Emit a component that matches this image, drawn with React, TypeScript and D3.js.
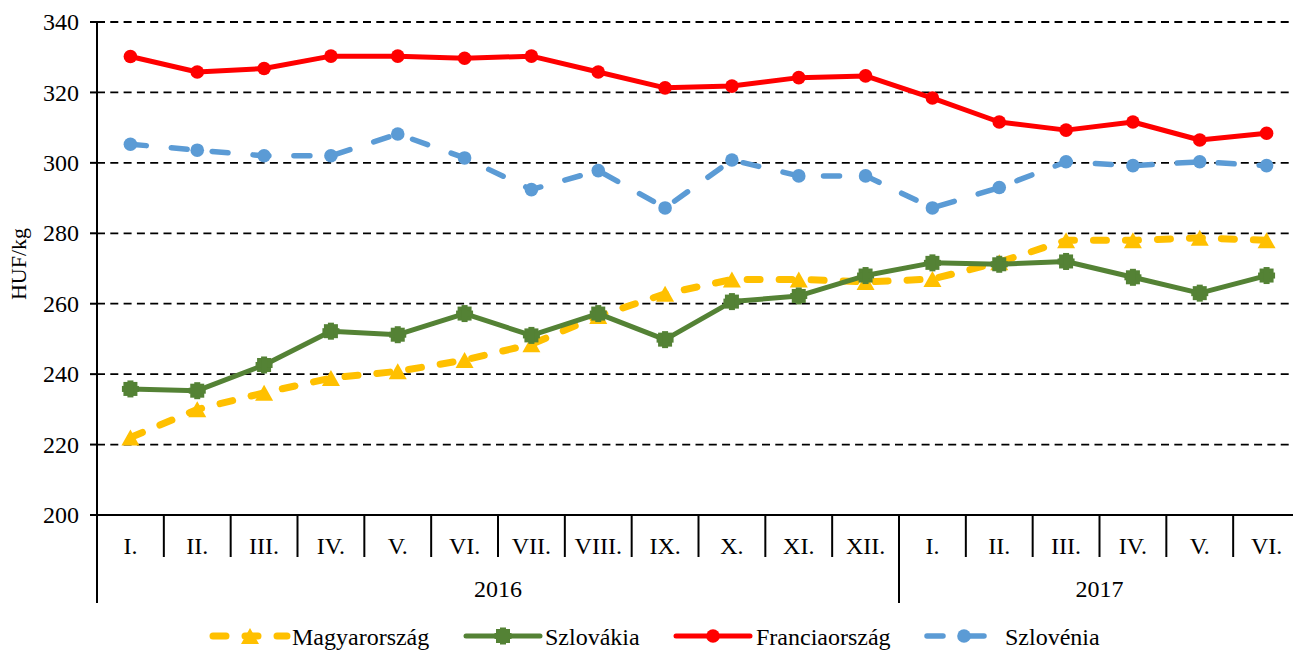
import React from "react";
import * as d3 from "d3";

const months = ["I.", "II.", "III.", "IV.", "V.", "VI.", "VII.", "VIII.", "IX.", "X.", "XI.", "XII.", "I.", "II.", "III.", "IV.", "V.", "VI."];
const yearLabels = ["2016", "2017"];
const yearCounts = [12, 6];
const yTicks = [200, 220, 240, 260, 280, 300, 320, 340];

const magyarorszag = [222, 230, 234.7, 238.9, 240.8, 244, 248.5, 256.5, 262.8, 266.9, 266.9, 266.2, 267, 271.8, 278, 278, 278.7, 278];
const szlovakia = [235.8, 235.3, 242.6, 252.2, 251.2, 257.2, 251.0, 257.2, 249.8, 260.6, 262.2, 268, 271.6, 271.2, 272, 267.5, 263, 268];
const franciaorszag = [330.2, 325.8, 326.8, 330.3, 330.3, 329.7, 330.3, 325.8, 321.3, 321.8, 324.2, 324.7, 318.4, 311.6, 309.3, 311.6, 306.5, 308.4];
const szlovenia = [305.3, 303.6, 302, 302, 308.2, 301.4, 292.4, 297.8, 287.2, 300.8, 296.3, 296.3, 287.2, 293, 300.3, 299.2, 300.3, 299.2];

type Marker = "triangle" | "square" | "circle";
const series: { name: string; values: number[]; color: string; width: number; dash?: string; marker: Marker }[] = [
  { name: "Magyarország", values: magyarorszag, color: "#FFC000", width: 7, dash: "13,19", marker: "triangle" },
  { name: "Szlovákia", values: szlovakia, color: "#548235", width: 5, marker: "square" },
  { name: "Franciaország", values: franciaorszag, color: "#FF0000", width: 5, marker: "circle" },
  { name: "Szlovénia", values: szlovenia, color: "#5B9BD5", width: 5.5, dash: "16,25", marker: "circle" },
];

const W = 1293;
const H = 651;
const FONT = "'Liberation Serif', 'Times New Roman', serif";

function MarkerShape({ type, x, y, color }: { type: Marker; x: number; y: number; color: string }) {
  if (type === "circle") return <circle cx={x} cy={y} r={6.8} fill={color} />;
  if (type === "triangle") {
    const w = 18, h = 16;
    return <path d={`M${x - w / 2},${y + h / 2}L${x + w / 2},${y + h / 2}L${x},${y - h / 2}Z`} fill={color} />;
  }
  return (
    <g fill={color}>
      <rect x={x - 7} y={y - 7} width={14} height={14} />
      <rect x={x - 8.5} y={y - 3} width={17} height={6} />
      <rect x={x - 3} y={y - 8.5} width={6} height={17} />
    </g>
  );
}

export default function App() {
  const left = 97;
  const right = 1300;
  const top = 22;
  const bottom = 515;
  const x = d3.scaleBand<number>().domain(d3.range(months.length)).range([left, right]).padding(0);
  const y = d3.scaleLinear().domain([200, 340]).range([bottom, top]);
  const cx = (i: number) => (x(i) as number) + x.bandwidth() / 2;
  const line = d3.line<number>().x((_, i) => cx(i)).y((v) => y(v));

  // year boundaries
  const yearStarts: number[] = [];
  let acc = 0;
  yearCounts.forEach((c) => { yearStarts.push(acc); acc += c; });

  const legendItems = [
    { lineX: 213, textX: 292 },
    { lineX: 466, textX: 545 },
    { lineX: 676, textX: 756 },
    { lineX: 927, textX: 1005 },
  ];
  const legendY = 636;

  return (
    <svg width={W} height={H} style={{ position: "absolute", left: 0, top: 0, background: "#fff" }} fontFamily={FONT}>
      {/* gridlines */}
      {yTicks.filter((t) => t > 200).map((t) => (
        <line key={t} x1={left} x2={W} y1={y(t)} y2={y(t)} stroke="#000" strokeWidth={1.8} strokeDasharray="8,5.3" />
      ))}
      {/* y axis */}
      <line x1={left} x2={left} y1={top} y2={603} stroke="#000" strokeWidth={2} />
      {yTicks.map((t) => (
        <g key={t}>
          <line x1={left - 7} x2={left} y1={y(t)} y2={y(t)} stroke="#000" strokeWidth={2} />
          <text x={79} y={y(t)} dy="0.34em" textAnchor="end" fontSize={24} fill="#000">{t}</text>
        </g>
      ))}
      <text transform={`translate(26,264) rotate(-90)`} textAnchor="middle" fontSize={22} fill="#000">HUF/kg</text>
      {/* x axis */}
      <line x1={left} x2={W} y1={bottom} y2={bottom} stroke="#000" strokeWidth={2} />
      {months.map((m, i) => (
        <g key={i}>
          {i > 0 && !yearStarts.includes(i) && (
            <line x1={x(i) as number} x2={x(i) as number} y1={bottom} y2={557} stroke="#000" strokeWidth={2} />
          )}
          <text x={cx(i)} y={554} textAnchor="middle" fontSize={24} fill="#000">{m}</text>
        </g>
      ))}
      {yearStarts.map((s, k) => {
        const x0 = x(s) as number;
        const endIdx = s + yearCounts[k] - 1;
        const x1 = (x(endIdx) as number) + x.bandwidth();
        return (
          <g key={k}>
            <line x1={x0} x2={x0} y1={bottom} y2={603} stroke="#000" strokeWidth={2} />
            <text x={(x0 + x1) / 2} y={597} textAnchor="middle" fontSize={24} fill="#000">{yearLabels[k]}</text>
          </g>
        );
      })}
      {/* series */}
      {series.map((s) => (
        <g key={s.name}>
          <path d={line(s.values) || ""} fill="none" stroke={s.color} strokeWidth={s.width} strokeDasharray={s.dash} strokeLinecap="round" strokeLinejoin="round" />
          {s.values.map((v, i) => (
            <MarkerShape key={i} type={s.marker} x={cx(i)} y={y(v)} color={s.color} />
          ))}
        </g>
      ))}
      {/* legend */}
      {series.map((s, k) => {
        const it = legendItems[k];
        return (
          <g key={s.name}>
            <line x1={it.lineX} x2={it.lineX + 74} y1={legendY} y2={legendY} stroke={s.color} strokeWidth={s.width} strokeDasharray={s.dash} strokeLinecap="round" />
            <MarkerShape type={s.marker} x={it.lineX + 37} y={legendY} color={s.color} />
            <text x={it.textX} y={645} fontSize={24} fill="#000">{s.name}</text>
          </g>
        );
      })}
    </svg>
  );
}
